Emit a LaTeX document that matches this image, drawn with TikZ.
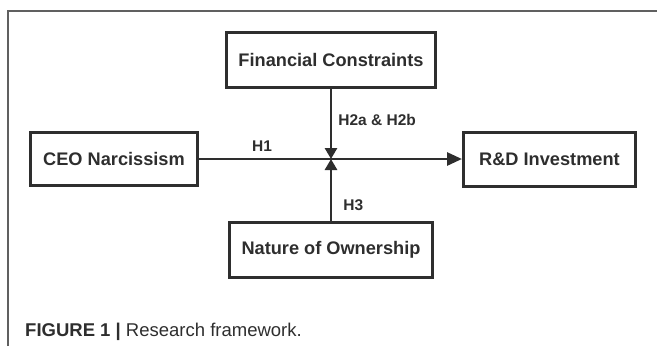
\documentclass[tikz,border=0pt]{standalone}
\usepackage{fontspec}
\setmainfont{Liberation Sans}
\usetikzlibrary{arrows.meta}
\definecolor{darkline}{HTML}{2E2E2E}
\definecolor{framegray}{HTML}{606060}
\tikzset{
    varbox/.style={draw=darkline, line width=3pt, text=darkline,
        font=\fontsize{18.2}{20}\selectfont\bfseries, inner sep=0pt},
    hyplabel/.style={text=darkline, font=\fontsize{15.5}{17}\selectfont\bfseries, inner sep=0pt},
    link/.style={draw=darkline, line width=2.8pt}
}
\begin{document}
\begin{tikzpicture}[x=1pt,y=-1pt]
    \useasboundingbox (0,0) rectangle (657,346);
    %draw frame
    \draw[framegray, line width=1.1pt] (8,346) -- (8,11) -- (657,11);
    %draw boxes
    \node[varbox, minimum width=209pt, minimum height=55pt] (fin) at (331,60) {Financial Constraints};
    \node[varbox, minimum width=167pt, minimum height=53pt] (ceo) at (114,159) {CEO Narcissism};
    \node[varbox, minimum width=172pt, minimum height=54pt] (rd) at (549.5,159) {R\&D Investment};
    \node[varbox, minimum width=203pt, minimum height=55pt] (own) at (331,250) {Nature of Ownership};
    \coordinate (j) at (331,159);
    %draw lines
    \draw [link,-{Triangle[length=15pt,width=13pt]}] (ceo) -- (rd)
        node[hyplabel, pos=0.24, above=6pt] (h1) {H1};
    \draw [link,-{Triangle[length=11pt,width=12pt]}] (fin) -- (j)
        node[hyplabel, pos=0.44, anchor=west, xshift=6pt] (h2) {H2a \& H2b};
    \draw [link,-{Triangle[length=11pt,width=12pt]}] (own) -- (j)
        node[hyplabel, pos=0.26, anchor=west, xshift=11pt] (h3) {H3};
    %draw caption
    \node[anchor=base west, text=darkline, inner sep=0pt, font=\fontsize{18.5}{20}\selectfont] (cap) at (25,336)
        {\textbf{FIGURE 1 |} Research framework.};
\end{tikzpicture}
\end{document}
